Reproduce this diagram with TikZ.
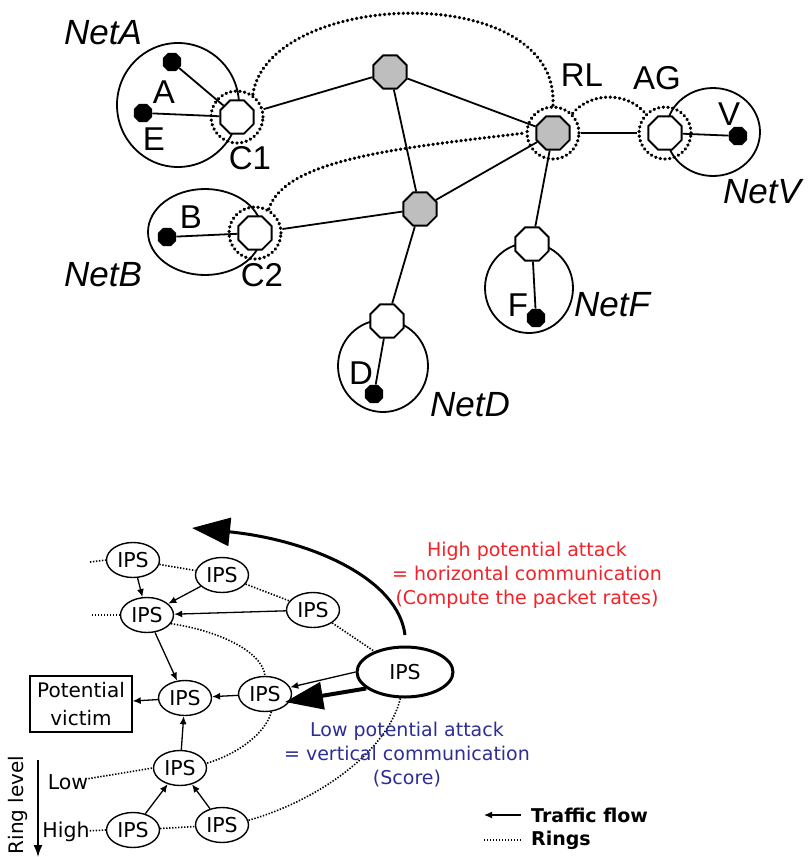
\documentclass[tikz,border=0pt]{standalone}
\usepackage{fontspec}
\setmainfont{Liberation Sans}
\newfontfamily\vera{DejaVu Sans}
\usetikzlibrary{shapes.geometric,arrows.meta}

\definecolor{hired}{RGB}{242,34,40}
\definecolor{loblue}{RGB}{45,45,150}
\definecolor{hub}{RGB}{190,190,190}

\tikzset{
  oct/.style={regular polygon, regular polygon sides=8, draw, line width=1.8pt, inner sep=0pt, minimum size=36pt},
  router/.style={oct, fill=hub},
  gate/.style={oct, fill=white},
  host/.style={regular polygon, regular polygon sides=8, fill=black, inner sep=0pt, minimum size=20pt},
  ring/.style={circle, draw, line width=3.4pt, line cap=round, dash pattern=on 0.3pt off 4.4pt, inner sep=0pt, minimum size=52pt},
  ringline/.style={line width=3.4pt, line cap=round, dash pattern=on 0.3pt off 4.4pt},
  link/.style={line width=1.8pt},
  net/.style={draw, line width=1.8pt},
  lbl/.style={inner sep=0pt, font=\fontsize{33}{33}\selectfont},
  netlbl/.style={inner sep=0pt, font=\fontsize{35}{35}\selectfont\itshape},
  ips/.style={ellipse, draw, line width=1.4pt, inner sep=0pt, minimum width=53pt, minimum height=35pt, font=\vera\fontsize{20.5}{20}\selectfont},
  vtext/.style={inner sep=0pt, font=\vera\fontsize{19}{24}\selectfont, align=center},
  flow/.style={line width=1.3pt, -{Latex[length=8pt,width=7pt]}},
  dots/.style={line width=1.6pt, dash pattern=on 1.4pt off 1.6pt},
}

\begin{document}
\begin{tikzpicture}[x=1pt,y=-1pt]
\useasboundingbox (0,0) rectangle (807,857);

% networks
\draw[net] (178,105) ellipse (61pt and 62pt);
\draw[net] (205,232) ellipse (57pt and 43pt);
\draw[net] (713,132) ellipse (47pt and 44pt);
\draw[net] (529,288) ellipse (44pt and 45pt);
\draw[net] (383,366) ellipse (45pt and 46pt);

% rings round the gateways
\node[ring] (c1r) at (237,117) {};
\node[ring] (c2r) at (255,233) {};
\node[ring] (rlr) at (553,133) {};
\node[ring] (agr) at (665,133) {};

% routers and gateways
\node[router] (r1) at (390,72) {};
\node[router] (r2) at (420,209) {};
\node[router] (rl) at (553,133) {};
\node[gate] (c1) at (237,117) {};
\node[gate] (c2) at (255,233) {};
\node[gate] (ag) at (665,133) {};
\node[gate] (gf) at (532,244) {};
\node[gate] (gd) at (387,321) {};

% hosts
\node[host] (ha) at (172,62) {};
\node[host] (he) at (143,113) {};
\node[host] (hb) at (167,237) {};
\node[host] (hv) at (738,136) {};
\node[host] (hf) at (536,318) {};
\node[host] (hd) at (374,394) {};

\draw[link] (ha) -- (c1);
\draw[link] (he) -- (c1);
\draw[link] (c1r) -- (r1);
\draw[link] (r1) -- (rl);
\draw[link] (r1) -- (r2);
\draw[link] (r2) -- (rl);
\draw[link] (c2r) -- (r2);
\draw[link] (hb) -- (c2);
\draw[link] (rlr) -- (agr);
\draw[link] (ag) -- (hv);
\draw[link] (rl) -- (gf);
\draw[link] (gf) -- (hf);
\draw[link] (r2) -- (gd);
\draw[link] (gd) -- (hd);

\draw[ringline] (c1r.55) .. controls +(16,-105) and +(7,-126) .. (rlr.90);
\draw[ringline] (c2r.60) .. controls +(16,-50) and +(-126,15) .. (rlr.180);
\draw[ringline] (rlr.45) to[out=50,in=130] (agr.135);

\node[netlbl] (na) at (103,33) {NetA};
\node[netlbl] (nb) at (103,275) {NetB};
\node[netlbl] (nv) at (762,192) {NetV};
\node[netlbl] (nf) at (612,305) {NetF};
\node[netlbl] (nd) at (470,405) {NetD};
\node[lbl] (la) at (164,92) {A};
\node[lbl] (le) at (154,139) {E};
\node[lbl] (lc1) at (250,158) {C1};
\node[lbl] (lb) at (191,217) {B};
\node[lbl] (lc2) at (262,275) {C2};
\node[lbl] (lrl) at (582,75) {RL};
\node[lbl] (lag) at (657,78) {AG};
\node[lbl] (lv) at (729,114) {V};
\node[lbl] (lf) at (518,305) {F};
\node[lbl] (ld) at (361,373) {D};

% lower picture: IPS rings
\node[ips] (p1) at (133,560) {IPS};
\node[ips] (p2) at (222,575) {IPS};
\node[ips] (p3) at (147,615) {IPS};
\node[ips] (p4) at (313,610) {IPS};
\node[ips] (p5) at (265,694) {IPS};
\node[ips] (p6) at (185,698) {IPS};
\node[ips] (p7) at (180,768) {IPS};
\node[ips] (p8) at (133,830) {IPS};
\node[ips] (p9) at (222,825) {IPS};
\node[ips, line width=3pt, minimum width=96pt, minimum height=50pt] (pb) at (405,672) {IPS};
\node[draw, line width=1.4pt, minimum width=102pt, minimum height=56pt, inner sep=0pt, align=center, font=\vera\fontsize{20}{28}\selectfont] (vic) at (81,704) {Potential\\victim};

\node[vtext, font=\vera\fontsize{20.5}{24}\selectfont] (low) at (68,782) {Low};
\node[vtext, font=\vera\fontsize{20.5}{24}\selectfont] (high) at (66,832) {High};
\node[vtext, font=\vera\fontsize{20}{24}\selectfont, rotate=90] (lev) at (18,805) {Ring level};
\coordinate (lv1) at (38,760);
\coordinate (lv2) at (38,857);
\draw[line width=1.4pt, -{Latex[length=12pt,width=9pt]}] (lv1) -- (lv2);

\coordinate (s1) at (90,562);
\coordinate (s3) at (92,615);
\draw[dots] (s1) -- (p1.west);
\draw[dots] (s3) -- (p3.west);
\draw[dots] (p1) -- (p2);
\draw[dots] (p2) -- (p4);
\draw[dots] (p4) -- (pb);
\draw[dots] (low) -- (p7.west);
\draw[dots] (high) -- (p8.west);
\draw[dots] (p8) -- (p9);
\draw[dots] (p3.-20) .. controls (215,630) and (262,650) .. (p5.north);
\draw[dots] (p5.-70) .. controls (265,735) and (235,755) .. (p7.10);
\draw[dots] (pb.-100) .. controls (388,750) and (320,800) .. (p9.10);

\draw[flow] (p1) -- (p3);
\draw[flow] (p2) -- (p3);
\draw[flow] (p4) -- (p3);
\draw[flow] (p3) -- (p6);
\draw[flow] (p5) -- (p6);
\draw[flow] (p6) -- (vic);
\draw[flow] (p7) -- (p6);
\draw[flow] (p8) -- (p7);
\draw[flow] (p9) -- (p7);
\draw[flow] (pb.west) -- (p5.15);

\coordinate (hz0) at (405,635);
\coordinate (hz1) at (192,528);
\draw[line width=3pt, -{Triangle[length=38pt,width=28pt]}] (hz0) .. controls (398,578) and (310,540) .. (hz1);
\coordinate (vt1) at (285,702);
\draw[line width=4pt, -{Triangle[length=38pt,width=27pt]}] (pb.203) -- (vt1);

\node[vtext, text=hired] (hitxt) at (527,575) {High potential attack\\= horizontal communication\\(Compute the packet rates)};
\node[vtext, text=loblue] (lotxt) at (407,755) {Low potential attack\\= vertical communication\\(Score)};

% legend
\coordinate (lg1) at (484,815);
\coordinate (lg2) at (521,815);
\coordinate (lg3) at (484,840);
\coordinate (lg4) at (521,840);
\draw[flow] (lg2) -- (lg1);
\draw[dots] (lg3) -- (lg4);
\node[vtext, font=\vera\bfseries\fontsize{19}{24}\selectfont, anchor=west] (ltf) at (531,815) {Traffic flow};
\node[vtext, font=\vera\bfseries\fontsize{19}{24}\selectfont, anchor=west] (lrg) at (531,840) {Rings};
\end{tikzpicture}
\end{document}
